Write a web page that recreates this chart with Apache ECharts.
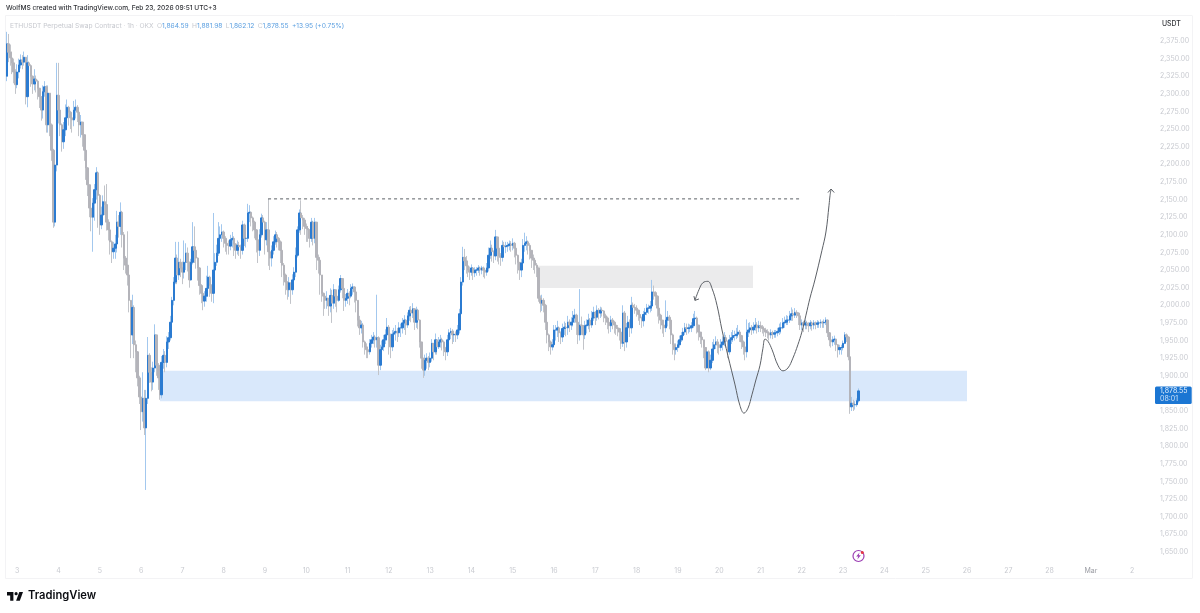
<!DOCTYPE html>
<html>
<head>
<meta charset="utf-8">
<title>ETHUSDT Perpetual Swap Contract</title>
<style>html,body{margin:0;padding:0;background:#fff}#chart{width:1200px;height:613px}</style>
<script src="https://cdn.jsdelivr.net/npm/echarts@6/dist/echarts.min.js"></script>
</head>
<body>
<div id="chart"></div>
<script>
// Hourly ETHUSDT candles, one entry per hour; each open is the previous close.
const firstOpen = 2325;
const closes = [
2371,2359,2351,2344,2331,2313,2331,2341,2348,2345,
2352,2296,2344,2340,2325,2314,2321,2318,2308,2296,
2277,2303,2310,2256,2301,2256,2220,2118,2199,2298,
2277,2256,2232,2249,2266,2281,2274,2266,2263,2277,
2281,2274,2256,2260,2242,2220,2195,2171,2138,2125,
2145,2164,2188,2156,2114,2128,2147,2143,2118,2107,
2090,2076,2081,2087,2118,2112,2132,2100,2067,2057,
2043,2007,1958,1997,1944,1934,1897,1870,1849,1868,
1826,1868,1929,1905,1891,1911,1958,1915,1897,1873,
1919,1929,1919,1948,1954,1976,2007,2033,2067,2043,
2061,2053,2047,2061,2074,2061,2036,2061,2083,2078,
2067,2053,2028,2017,2006,2013,2024,2040,2028,2017,
2050,2061,2074,2095,2100,2104,2095,2088,2085,2084,
2093,2095,2087,2078,2085,2083,2078,2114,2095,2095,
2131,2132,2124,2118,2107,2093,2078,2100,2124,2118,
2093,2107,2076,2067,2078,2090,2100,2095,2090,2078,
2057,2043,2033,2022,2032,2022,2036,2047,2071,2107,
2131,2124,2121,2112,2109,2107,2095,2118,2095,2118,
2068,2064,2043,2017,2013,2007,2010,1999,2014,2003,
2022,2013,2007,2022,2038,2024,2007,2010,2017,2013,
2024,2026,2019,2007,1979,1968,1972,1948,1941,1937,
1934,1946,1951,1955,1951,1954,1915,1937,1941,1951,
1958,1969,1958,1941,1959,1961,1963,1961,1968,1968,
1975,1979,1972,1985,1993,1989,1995,1976,1993,1979,
1948,1925,1908,1922,1925,1919,1925,1946,1934,1951,
1941,1948,1951,1948,1939,1934,1951,1961,1963,1958,
1959,1958,1965,1988,2033,2068,2063,2056,2050,2047,
2053,2046,2050,2050,2053,2050,2053,2050,2047,2053,
2071,2081,2076,2070,2097,2081,2070,2068,2085,2083,
2084,2085,2087,2085,2088,2081,2071,2061,2050,2060,
2085,2088,2090,2085,2078,2067,2064,2057,2053,2010,
2003,2007,2000,1976,1958,1948,1941,1944,1965,1965,
1968,1961,1955,1967,1969,1968,1976,1972,1976,1982,
1986,1976,1958,1972,1971,1958,1971,1972,1979,1972,
1982,1990,1983,1993,1989,1993,1992,1985,1982,1976,
1971,1979,1976,1972,1968,1967,1962,1946,1989,1948,
1968,1976,1968,2000,1997,1996,1993,1987,1982,1978,
1987,1990,1996,1996,1999,2019,2018,2013,1996,1986,
1979,1972,1968,1979,1983,1979,1958,1944,1937,1940,
1944,1951,1957,1962,1968,1967,1968,1968,1971,1981,
1982,1972,1962,1955,1951,1940,1911,1934,1911,1922,
1938,1944,1948,1944,1940,1944,1948,1954,1949,1934,
1951,1954,1957,1957,1959,1962,1957,1948,1941,1934,
1962,1965,1968,1965,1969,1972,1968,1971,1969,1967,
1965,1962,1961,1958,1961,1959,1961,1961,1963,1968,
1968,1975,1976,1979,1979,1985,1988,1986,1990,1989,
1985,1972,1975,1972,1975,1973,1971,1975,1972,1975,
1973,1975,1975,1976,1975,1976,1979,1961,1951,1948,
1951,1952,1944,1937,1940,1940,1946,1958,1955,1927,
1856,1861,1859,1859,1864.59,1878.55];
const highs = [
2388,2385,2370,2360,2350,2335,2342,2350,2356,2355,
2360,2352,2355,2346,2342,2326,2335,2326,2320,2308,
2296,2312,2318,2312,2312,2300,2258,2222,2210,2344,
2344,2280,2258,2260,2285,2292,2283,2276,2272,2290,
2292,2284,2275,2270,2260,2240,2220,2196,2170,2142,
2152,2172,2196,2190,2158,2140,2156,2170,2172,2122,
2112,2092,2090,2100,2134,2128,2146,2134,2104,2070,
2105,2042,2005,2015,2000,1950,1935,1900,1872,1905,
1880,1880,1955,1932,1912,1920,1973,1958,1918,1898,
1928,1938,1935,1956,1962,1985,2012,2040,2090,2072,
2090,2066,2062,2092,2088,2082,2062,2066,2118,2112,
2080,2068,2054,2030,2018,2020,2042,2056,2042,2030,
2131,2074,2086,2118,2112,2115,2106,2098,2092,2092,
2100,2104,2098,2088,2092,2090,2086,2120,2116,2103,
2144,2142,2133,2126,2120,2108,2093,2108,2130,2128,
2120,2118,2151,2080,2085,2098,2106,2104,2097,2092,
2080,2060,2045,2034,2040,2032,2044,2054,2082,2112,
2136,2149,2128,2124,2116,2112,2108,2124,2120,2124,
2116,2072,2062,2042,2018,2014,2020,2010,2024,2022,
2030,2022,2013,2028,2043,2038,2024,2016,2023,2020,
2030,2031,2027,2020,2007,1985,1978,1975,1950,1946,
1940,1952,1958,1962,1958,2015,1956,1944,1950,1958,
1966,1982,1972,1960,1965,1968,1972,1968,1976,1974,
1982,1986,1980,1990,1998,1999,2003,1996,1998,1995,
1980,1948,1925,1930,1932,1928,1933,1952,1946,1960,
1952,1955,1958,1954,1950,1941,1958,1966,1968,1966,
1964,1963,1972,1995,2040,2083,2080,2070,2062,2055,
2058,2054,2054,2054,2057,2055,2056,2055,2052,2060,
2082,2092,2086,2078,2107,2097,2082,2074,2092,2090,
2090,2090,2092,2091,2095,2090,2083,2072,2060,2066,
2094,2103,2098,2092,2088,2078,2072,2064,2060,2053,
2014,2015,2010,2002,1978,1960,1950,1952,1972,1972,
1978,1970,1963,1974,1977,1975,1985,1980,1983,1992,
1995,1988,1978,2023,1984,1972,1978,1980,1988,1982,
1992,1998,1992,2000,1996,1998,1997,1993,1988,1984,
1978,1985,1982,1978,1974,1972,1968,1962,2000,1992,
1975,1985,1980,2012,2004,2002,2000,1994,1988,1984,
1992,1996,2002,2001,2006,2036,2028,2020,2014,1998,
1988,1978,1975,2007,1992,1986,1980,1960,1946,1946,
1950,1957,1962,1968,1975,1974,1974,1973,1976,1988,
1992,1984,1972,1962,1958,1950,1940,1940,1936,1930,
1948,1952,1956,1952,1948,1952,1956,1962,1958,1950,
1958,1962,1965,1964,1968,1972,1965,1958,1950,1942,
1980,1975,1976,1972,1976,1982,1976,1978,1977,1972,
1970,1968,1966,1963,1966,1964,1965,1965,1968,1974,
1976,1982,1984,1986,1985,1992,1997,1994,1996,1993,
1990,1985,1980,1978,1980,1978,1976,1979,1977,1979,
1977,1979,1978,1980,1978,1980,1983,1980,1962,1954,
1956,1957,1952,1945,1944,1944,1950,1962,1960,1956,
1930,1870,1866,1864,1868,1881.98];
const lows = [
2318,2345,2340,2328,2315,2300,2308,2322,2336,2335,
2340,2285,2281,2330,2310,2300,2305,2302,2292,2280,
2262,2265,2296,2245,2245,2240,2205,2110,2112,2190,
2258,2240,2218,2222,2240,2262,2255,2250,2245,2254,
2265,2260,2240,2238,2225,2205,2178,2155,2125,2105,
2076,2120,2150,2110,2100,2108,2125,2128,2106,2092,
2072,2060,2066,2066,2075,2096,2100,2082,2050,2045,
2028,1990,1925,1945,1925,1905,1885,1860,1823,1835,
1816,1738,1860,1890,1878,1880,1905,1900,1880,1866,
1868,1910,1905,1912,1938,1950,1970,2000,2030,2030,
2036,2040,2030,2038,2050,2048,2025,2035,2058,2060,
2052,2035,2015,2003,1993,1998,2005,2012,2012,2005,
2003,2044,2056,2070,2088,2090,2082,2076,2072,2072,
2078,2082,2070,2066,2072,2070,2066,2072,2084,2082,
2090,2118,2112,2105,2095,2075,2060,2070,2096,2105,
2072,2085,2056,2050,2055,2072,2086,2082,2078,2060,
2040,2028,2015,2008,2012,2002,2015,2030,2040,2068,
2103,2100,2108,2100,2090,2090,2082,2090,2085,2088,
2050,2045,2015,2005,1985,1995,1995,1985,1990,1975,
1995,1998,1990,2005,2018,2010,1992,1998,2002,2000,
2010,2015,2004,1990,1970,1958,1960,1940,1930,1925,
1925,1930,1940,1945,1940,1940,1901,1908,1930,1935,
1945,1950,1930,1925,1935,1948,1950,1948,1955,1955,
1960,1965,1958,1968,1978,1976,1982,1965,1968,1966,
1940,1910,1897,1900,1910,1908,1912,1920,1922,1930,
1930,1938,1940,1936,1928,1922,1928,1948,1952,1945,
1948,1948,1952,1960,1985,2028,2050,2045,2040,2036,
2042,2036,2040,2042,2046,2042,2044,2040,2038,2042,
2048,2066,2062,2060,2064,2062,2058,2056,2062,2070,
2074,2076,2078,2076,2078,2068,2058,2045,2036,2040,
2052,2076,2078,2072,2065,2053,2050,2045,2040,2005,
1990,1992,1990,1965,1946,1935,1930,1936,1940,1950,
1955,1948,1945,1948,1958,1956,1958,1962,1965,1970,
1975,1958,1945,1950,1958,1937,1952,1960,1966,1962,
1968,1978,1972,1978,1980,1982,1984,1976,1972,1966,
1960,1962,1966,1960,1958,1956,1950,1938,1941,1935,
1940,1962,1955,1960,1988,1988,1984,1978,1972,1968,
1970,1980,1986,1988,1990,1992,2008,2000,1984,1974,
1966,1960,1955,1962,1970,1966,1945,1930,1922,1930,
1934,1940,1948,1950,1958,1958,1960,1962,1962,1968,
1972,1960,1950,1945,1940,1925,1908,1912,1905,1908,
1918,1935,1938,1932,1930,1935,1936,1942,1940,1925,
1930,1945,1948,1950,1952,1954,1948,1938,1930,1922,
1926,1955,1960,1958,1960,1964,1960,1962,1962,1960,
1956,1955,1953,1950,1953,1952,1954,1954,1956,1958,
1960,1966,1968,1972,1972,1975,1978,1978,1982,1982,
1972,1965,1965,1962,1966,1966,1962,1966,1964,1966,
1966,1968,1968,1968,1968,1968,1972,1955,1942,1940,
1942,1944,1935,1926,1930,1930,1936,1945,1948,1922,
1846,1850,1850,1852,1856,1862.12];

// Time axis: hour slots, with a day label every 24 slots.
const slotCount = 666;
const firstDaySlot = 6;
const dayLabels = ['3','4','5','6','7','8','9','10','11','12','13','14','15','16','17','18','19','20','21','22','23','24','25','26','27','28','Mar','2'];
const priceTicks = [2375,2350,2325,2300,2275,2250,2225,2200,2175,2150,2125,2100,2075,2050,2025,2000,1975,1950,1925,1900,1850,1825,1800,1775,1750,1725,1700,1675,1650];

// Chart annotations, in hour slots and prices.
const demandZone = { fromSlot: 89, toSlot: 558, low: 1864, high: 1907 };
const supplyZone = { fromSlot: 308.7, toSlot: 433.6, low: 2024.5, high: 2056 };
const targetLine = { fromSlot: 151.8, toSlot: 462, price: 2151 };
const pathSlots = [399.9,402.2,404.5,407.4,409.8,412.7,415.6,419,423.2,426,428.4,430.7,433,435.3,437.7,439.4,440.6,442.3,444.7,448.1,451,453.9,456.8,459.7,462,464.4,466.7,469.6,473.7,476,477.8,478.4,479];
const pathPrices = [2007,2022,2032,2034,2024,2000,1965,1929,1887,1858,1847,1854,1873,1894,1915,1939,1952,1949,1937,1915,1907,1911,1925,1944,1962,1986,2010,2036,2078,2104,2142,2156,2165];
const headLeft = [[399.3,2013],[399.9,2007],[402.2,2009]];
const headRight = [[477.2,2160],[479,2165],[480.8,2160]];

const BLUE = '#2b7bd1', BLUE_WICK = '#a3c8ee', GRAY = '#b4b4ba', GRAY_WICK = '#c2c4c9';
const AXIS_TEXT = '#c8cad0';
const FONT = 'Inter, "Noto Sans", sans-serif';

const opens = closes.map((c, i) => (i === 0 ? firstOpen : closes[i - 1]));
const categories = Array.from({ length: slotCount }, (_, i) => {
  const k = (i - firstDaySlot) / 24;
  return Number.isInteger(k) && k >= 0 && k < dayLabels.length ? dayLabels[k] : '';
});
const wickData = closes.map((c, i) => {
  const top = Math.max(opens[i], c), bottom = Math.min(opens[i], c);
  return [opens[i], c, Math.min(lows[i], bottom), Math.max(highs[i], top)];
});
const bodyData = closes.map((c, i) => {
  const top = Math.max(opens[i], c), bottom = Math.min(opens[i], c);
  return [opens[i], c, bottom, top];
});
const pricePath = pathSlots.map((s, i) => [s, pathPrices[i]]);
const fmtPrice = v => Number(v).toLocaleString('en-US', { minimumFractionDigits: 2, maximumFractionDigits: 2 });

const chart = echarts.init(document.getElementById('chart'));

function plainLine(data, extra) {
  return Object.assign({
    type: 'line', xAxisIndex: 1, yAxisIndex: 0, data, showSymbol: false, silent: true, z: 5,
    lineStyle: { color: '#5c6066', width: 1 }
  }, extra);
}

function chrome(lastY) {
  const hair = (x1, y1, x2, y2) => ({ type: 'line', silent: true, shape: { x1, y1, x2, y2 }, style: { stroke: '#f3f3f5', lineWidth: 1 } });
  return [
    hair(5.5, 15.5, 1192, 15.5), hair(5.5, 578.5, 1192, 578.5), hair(5.5, 15.5, 5.5, 578.5), hair(1192.5, 15.5, 1192.5, 578.5),
    { type: 'text', x: 6, y: 4.5, style: { text: 'WolfMS created with TradingView.com, Feb 23, 2026 09:51 UTC+3', font: '500 6.6px ' + FONT, fill: '#2f3136' } },
    { type: 'text', x: 10, y: 20, style: {
        text: '{a|ETHUSDT Perpetual Swap Contract · 1h · OKX} {a|O}{b|1,864.59} {a|H}{b|1,881.98} {a|L}{b|1,862.12} {a|C}{b|1,878.55} {b|+13.95 (+0.75%)}',
        rich: { a: { fill: '#c6c8ce', font: '6.65px ' + FONT }, b: { fill: '#5b9fe0', font: '6.65px ' + FONT } } } },
    { type: 'text', x: 1162, y: 20.5, style: { text: 'USDT', font: '500 6.9px ' + FONT, fill: '#33353a' } },
    { type: 'rect', shape: { x: 1155, y: lastY - 4.5, width: 36.7, height: 17.5, r: 1.5 }, style: { fill: '#1b76d3' } },
    { type: 'text', x: 1160, y: lastY - 3.5, style: { text: fmtPrice(closes[closes.length - 1]), font: '7px ' + FONT, fill: '#e9f2fb' } },
    { type: 'text', x: 1160, y: lastY + 4, style: { text: '08:01', font: '7px ' + FONT, fill: '#cfe2f6' } },
    { type: 'circle', shape: { cx: 858.5, cy: 556, r: 5.5 }, style: { fill: '#fff', stroke: '#9c3fb4', lineWidth: 1.2 } },
    { type: 'polygon', shape: { points: [[859.5, 552.5], [856.2, 556.6], [858.2, 556.6], [857.4, 559.5], [860.8, 555.3], [858.8, 555.3]] }, style: { fill: '#9c3fb4' } },
    { type: 'circle', shape: { cx: 862.3, cy: 552.4, r: 1.5 }, style: { fill: '#e53946' } },
    { type: 'polygon', shape: { points: [[13.4, 592], [7, 592], [7, 595.5], [10.2, 595.5], [10.2, 600.7], [13.4, 600.7]] }, style: { fill: '#0b0d12' } },
    { type: 'polygon', shape: { points: [[19.8, 600.7], [16.1, 600.7], [19.3, 592], [23, 592]] }, style: { fill: '#0b0d12' } },
    { type: 'circle', shape: { cx: 16.1, cy: 593.7, r: 1.6 }, style: { fill: '#0b0d12' } },
    { type: 'text', x: 28, y: 590, style: { text: 'TradingView', font: '600 11.2px ' + FONT, fill: '#0b0d12' } }
  ];
}

chart.setOption({
  animation: false,
  backgroundColor: '#ffffff',
  textStyle: { fontFamily: FONT },
  grid: { left: 6, right: 48, top: 5.76, bottom: 43.4 },
  xAxis: [
    {
      type: 'category', data: categories, boundaryGap: true,
      axisLine: { show: false }, axisTick: { show: false }, splitLine: { show: false },
      axisLabel: {
        interval: (i, v) => v !== '', margin: -2, fontSize: 7, fontFamily: FONT,
        color: v => (v === 'Mar' ? '#9a9ca3' : AXIS_TEXT)
      }
    },
    { type: 'value', min: -0.5, max: slotCount - 0.5, show: false }
  ],
  yAxis: {
    type: 'value', min: 1625, max: 2425, interval: 25, position: 'right',
    axisLine: { show: false }, axisTick: { show: false }, splitLine: { show: false },
    axisLabel: {
      margin: 8, fontSize: 7, fontFamily: FONT, color: AXIS_TEXT,
      formatter: v => (priceTicks.includes(v) ? fmtPrice(v) : '')
    }
  },
  series: [
    plainLine([], {
      name: 'zones', z: 1,
      markArea: {
        silent: true,
        data: [
          [{ coord: [demandZone.fromSlot, demandZone.high], itemStyle: { color: '#d9e8fb' } }, { coord: [demandZone.toSlot, demandZone.low] }],
          [{ coord: [supplyZone.fromSlot, supplyZone.high], itemStyle: { color: '#ebebec' } }, { coord: [supplyZone.toSlot, supplyZone.low] }]
        ]
      }
    }),
    {
      name: 'wicks', type: 'candlestick', data: wickData, barWidth: 1, z: 3, silent: true, large: false,
      itemStyle: { color: BLUE_WICK, color0: GRAY_WICK, borderColor: BLUE_WICK, borderColor0: GRAY_WICK, borderWidth: 1 }
    },
    {
      name: 'bodies', type: 'candlestick', data: bodyData, barWidth: 2, z: 4, silent: true, large: false,
      itemStyle: { color: BLUE, color0: GRAY, borderColor: BLUE, borderColor0: GRAY, borderWidth: 1 }
    },
    plainLine([[targetLine.fromSlot, targetLine.price], [targetLine.toSlot, targetLine.price]], { name: 'target', lineStyle: { color: '#5c6066', width: 1, type: [3, 3] } }),
    plainLine(pricePath, { name: 'path', smooth: 0.4 }),
    plainLine(headLeft, { name: 'headLeft' }),
    plainLine(headRight, { name: 'headRight' })
  ]
});

const lastY = chart.convertToPixel({ yAxisIndex: 0 }, closes[closes.length - 1]);
chart.setOption({ graphic: chrome(lastY) });
</script>
</body>
</html>
